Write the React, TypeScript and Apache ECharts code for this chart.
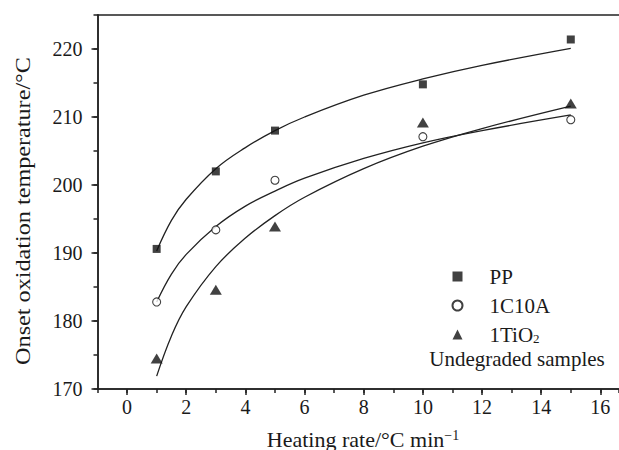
import React, { useEffect, useRef } from "react";
import * as echarts from "echarts";

// ---- data ----
const heatingRates = [1, 3, 5, 10, 15];
const ppValues = [190.6, 202.0, 208.0, 214.8, 221.4];
const c10aValues = [182.8, 193.4, 200.7, 207.1, 209.6];
const tio2Values = [174.5, 184.6, 193.9, 209.2, 212.0];

// fitted curves
const fitRates = [1, 1.5, 2, 3, 4, 5, 6, 8, 10, 12, 15];
const ppFit = [190.3, 194.8, 197.9, 202.4, 205.5, 208.0, 210.0, 213.2, 215.6, 217.6, 220.1];
const c10aFit = [182.8, 186.9, 189.8, 193.9, 196.9, 199.1, 201.0, 203.9, 206.2, 208.0, 210.3];
const tio2Fit = [171.9, 177.8, 182.1, 188.0, 192.2, 195.5, 198.2, 202.4, 205.7, 208.3, 211.6];

const seriesNames = ["PP", "1C10A", "1TiO2"];
const xMajorTicks = [0, 2, 4, 6, 8, 10, 12, 14, 16];
const yMajorTicks = [170, 180, 190, 200, 210, 220];
const xMinorStep = 1;
const yMinorStep = 5;

const FONT = "'Liberation Serif', 'Times New Roman', serif";
const INK = "#1a1a1a";
const LINE = "#222";

const pairs = (xs: number[], ys: number[]) => xs.map((x, i) => [x, ys[i]]);

export default function App() {
  const ref = useRef<HTMLDivElement>(null);
  useEffect(() => {
    if (!ref.current) return;
    const chart = echarts.init(ref.current, null, { renderer: "svg" });
    const xMin = -1;
    const xMax = 16.63;
    const yMin = 170;
    const yMax = 225;
    const gridBox = { left: 97.5, top: 15, right: 0, bottom: 61, containLabel: false };
    const curve = (name: string, data: number[][]) => ({
      type: "line",
      name,
      data,
      smooth: 0.4,
      showSymbol: false,
      symbol: "none",
      silent: true,
      lineStyle: { color: LINE, width: 1.3 },
      z: 2,
    });
    chart.setOption({
      animation: false,
      backgroundColor: "#fff",
      textStyle: { fontFamily: FONT, color: INK },
      grid: [{ ...gridBox }, { ...gridBox }],
      xAxis: [
        {
          type: "value",
          gridIndex: 0,
          position: "bottom",
          min: xMin,
          max: xMax,
          splitNumber: 9,
          axisLine: { show: true, onZero: false, lineStyle: { color: LINE, width: 1.5 } },
          axisTick: { show: true, customValues: xMajorTicks, length: 6, inside: false, lineStyle: { color: LINE, width: 1.5 } },
          axisLabel: { customValues: xMajorTicks, fontSize: 20, margin: 8, color: INK, fontFamily: FONT },
          splitLine: { show: false },
        },
        {
          type: "value",
          gridIndex: 0,
          position: "top",
          min: xMin,
          max: xMax,
          axisLine: { show: true, onZero: false, lineStyle: { color: LINE, width: 1.5 } },
          axisTick: { show: false },
          axisLabel: { show: false },
          splitLine: { show: false },
        },
        {
          type: "value",
          gridIndex: 1,
          position: "bottom",
          min: xMin,
          max: xMax,
          interval: xMinorStep,
          axisLine: { show: true, onZero: false, lineStyle: { color: LINE, width: 1.5 } },
          axisTick: { show: true, length: 4, lineStyle: { color: LINE, width: 1.5 } },
          axisLabel: { show: false },
          splitLine: { show: false },
        },
      ],
      yAxis: [
        {
          type: "value",
          gridIndex: 0,
          position: "left",
          min: yMin,
          max: yMax,
          splitNumber: 6,
          axisLine: { show: true, onZero: false, lineStyle: { color: LINE, width: 1.5 } },
          axisTick: { show: true, customValues: yMajorTicks, length: 6, lineStyle: { color: LINE, width: 1.5 } },
          axisLabel: { customValues: yMajorTicks, fontSize: 20, margin: 15, color: INK, fontFamily: FONT },
          splitLine: { show: false },
        },
        {
          type: "value",
          gridIndex: 1,
          position: "left",
          min: yMin,
          max: yMax,
          interval: yMinorStep,
          axisLine: { show: true, onZero: false, lineStyle: { color: LINE, width: 1.5 } },
          axisTick: { show: true, length: 4, lineStyle: { color: LINE, width: 1.5 } },
          axisLabel: { show: false },
          splitLine: { show: false },
        },
      ],
      legend: {
        data: seriesNames,
        orient: "vertical",
        left: 451.5,
        top: 266,
        padding: 0,
        itemWidth: 10,
        itemHeight: 10,
        itemGap: 8,
        selectedMode: false,
        formatter: (name: string) => (name === "1TiO2" ? "1TiO{sub|2}" : name),
        textStyle: {
          fontFamily: FONT,
          fontSize: 21,
          color: INK,
          lineHeight: 20,
          padding: [0, 0, 0, 22],
          rich: {
            sub: { fontFamily: FONT, fontSize: 13, color: INK, verticalAlign: "bottom", lineHeight: 20 },
          },
        },
      },
      series: [
        {
          type: "scatter",
          name: "PP",
          data: pairs(heatingRates, ppValues),
          symbol: "rect",
          symbolSize: 8,
          itemStyle: { color: "#111" },
          z: 3,
        },
        {
          type: "scatter",
          name: "1C10A",
          data: pairs(heatingRates, c10aValues),
          symbol: "circle",
          symbolSize: 8,
          itemStyle: { color: "#fff", borderColor: "#111", borderWidth: 1.1 },
          z: 3,
        },
        {
          type: "scatter",
          name: "1TiO2",
          data: pairs(heatingRates, tio2Values),
          symbol: "triangle",
          symbolSize: [12, 10],
          itemStyle: { color: "#111" },
          z: 3,
        },
        curve("PP fit", pairs(fitRates, ppFit)),
        curve("1C10A fit", pairs(fitRates, c10aFit)),
        curve("1TiO2 fit", pairs(fitRates, tio2Fit)),
      ],
      graphic: [
        {
          type: "text",
          x: 517,
          y: 359,
          style: {
            text: "Undegraded samples",
            fontFamily: FONT,
            fontSize: 21,
            fill: INK,
            align: "center",
            verticalAlign: "middle",
          },
        },
        {
          type: "text",
          x: 363,
          y: 439,
          style: {
            text: "Heating rate/°C min{sup|−1}",
            fontFamily: FONT,
            fontSize: 22,
            fill: INK,
            align: "center",
            verticalAlign: "middle",
            rich: {
              sup: { fontFamily: FONT, fontSize: 14, fill: INK, verticalAlign: "top", padding: [0, 0, 8, 0] },
            },
          },
        },
        {
          type: "text",
          x: 22,
          y: 211,
          rotation: Math.PI / 2,
          scaleX: 1.1,
          style: {
            text: "Onset oxidation temperature/°C",
            fontFamily: FONT,
            fontSize: 22,
            fill: INK,
            align: "center",
            verticalAlign: "middle",
          },
        },
      ],
    });
    return () => chart.dispose();
  }, []);
  return (
    <div
      ref={ref}
      style={{ position: "absolute", left: 0, top: 0, width: 619, height: 450, background: "#fff" }}
    />
  );
}
